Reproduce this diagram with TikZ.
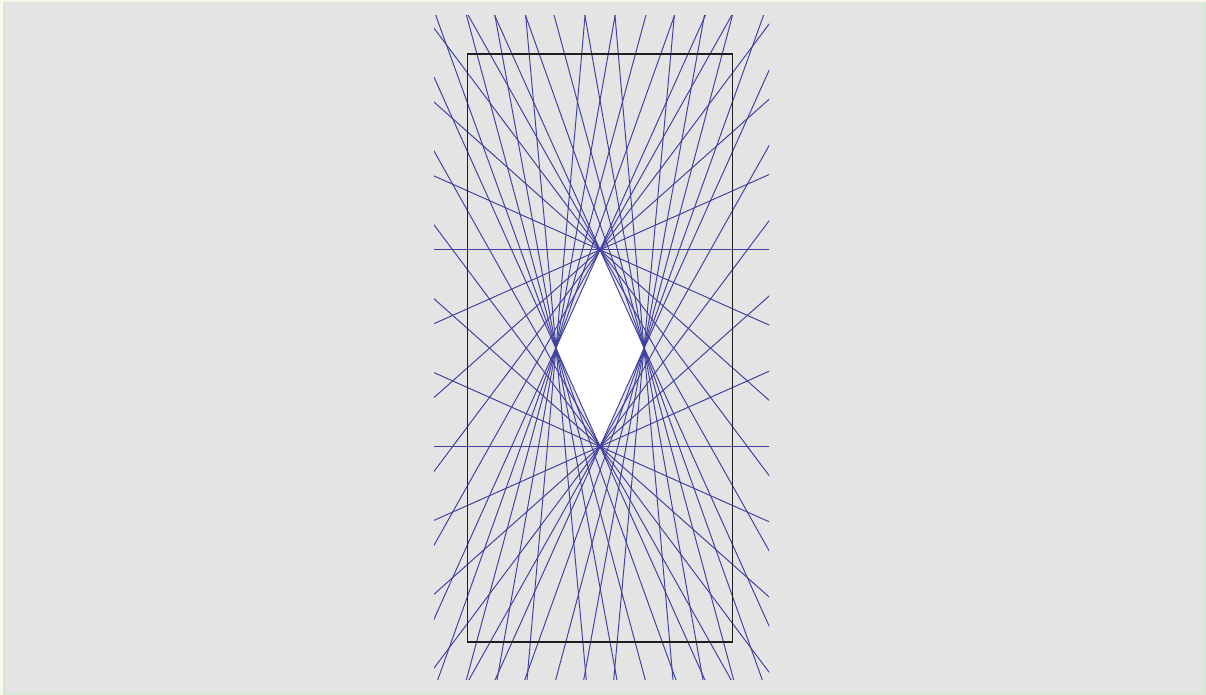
\documentclass[tikz,border=0pt]{standalone}
\usetikzlibrary{calc}
\definecolor{bgcream}{RGB}{250,248,236}
\definecolor{bgedge}{RGB}{212,232,216}
\definecolor{bggray}{RGB}{228,228,228}
\definecolor{rayblue}{RGB}{64,64,160}
\definecolor{framegray}{RGB}{30,30,30}
\tikzset{
  ray/.style={draw=rayblue, line width=0.55pt},
  frame/.style={draw=framegray, line width=0.75pt}
}
\begin{document}
\begin{tikzpicture}[x=0.02cm,y=-0.02cm]
\useasboundingbox (0,0) rectangle (1206,695);
\fill[bgcream] (0,0) rectangle (1206,695);
\fill[bgedge] (3,2) rectangle (1206,695);
\fill[bggray] (6,3) rectangle (1204,693);
\coordinate (T) at (600,249.8);
\coordinate (B) at (600,446.5);
\coordinate (L) at (556,348);
\coordinate (R) at (644,348);
\fill[white] (T) -- (R) -- (B) -- (L) -- cycle;
\begin{scope}
\clip (434,16) rectangle (769,679.5);
\foreach \k in {-5,...,5}{
  \pgfmathsetmacro{\dyp}{89*\k}
  \pgfmathsetmacro{\dym}{-89*\k}
  \draw[ray] ($(T)+(-200,\dym)$) -- ($(T)+(200,\dyp)$);
  \draw[ray] ($(B)+(-200,\dym)$) -- ($(B)+(200,\dyp)$);
}
\foreach \xt in {436,466.7,495,525.7,585,615,645.7,674.3}{
  \coordinate (lt) at (\xt,16);
  \draw[ray] ($(lt)!-0.05!(L)$) -- ($(lt)!2.05!(L)$);
}
\foreach \xt in {525.7,554.3,585,615,674.3,704.3,732.3,763.3}{
  \coordinate (rt) at (\xt,16);
  \draw[ray] ($(rt)!-0.05!(R)$) -- ($(rt)!2.05!(R)$);
}
\end{scope}
\draw[frame] (467.5,54) rectangle (732.5,642);
\end{tikzpicture}
\end{document}
